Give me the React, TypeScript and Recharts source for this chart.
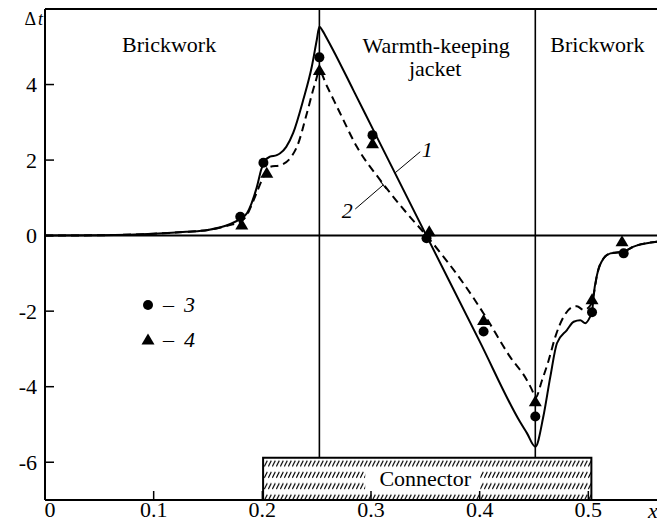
import React from 'react';
import {
  ComposedChart,
  Line,
  Scatter,
  XAxis,
  YAxis,
  ReferenceLine,
  ReferenceArea,
  ReferenceDot,
  Legend,
} from 'recharts';

const FONT = 'Liberation Serif, serif';

// Curve 1 (solid line)
const curve1X = [0, 0.05, 0.1, 0.13, 0.15, 0.17, 0.18, 0.186, 0.19, 0.195, 0.199, 0.202, 0.207, 0.2133, 0.2164, 0.222, 0.2284, 0.2376, 0.2455, 0.2501, 0.2525, 0.2555, 0.2594, 0.2652, 0.2836, 0.3014, 0.351, 0.4, 0.4371, 0.4435, 0.4512, 0.4586, 0.465, 0.4711, 0.4803, 0.4865, 0.4926, 0.4972, 0.5018, 0.5034, 0.5049, 0.508, 0.5141, 0.5203, 0.5325, 0.5417, 0.563, 0.6];
const curve1Y = [0, 0.01, 0.05, 0.1, 0.15, 0.3, 0.45, 0.6, 0.85, 1.29, 1.75, 1.97, 2.09, 2.13, 2.18, 2.35, 2.72, 3.59, 4.47, 5.18, 5.53, 5.42, 5.22, 4.91, 3.86, 2.84, 0, -2.8, -4.93, -5.23, -5.59, -4.79, -3.74, -2.85, -2.5, -2.28, -2.24, -2.32, -2.14, -2.03, -1.57, -1.04, -0.6, -0.47, -0.42, -0.29, -0.16, -0.08];

// Curve 2 (dashed line)
const curve2X = [0, 0.05, 0.1, 0.13, 0.15, 0.17, 0.18, 0.186, 0.19, 0.195, 0.2, 0.204, 0.2072, 0.2164, 0.2318, 0.241, 0.2486, 0.2525, 0.2594, 0.2716, 0.287, 0.3085, 0.3331, 0.351, 0.3668, 0.385, 0.4036, 0.428, 0.4435, 0.4496, 0.4512, 0.4574, 0.4635, 0.4696, 0.4772, 0.4865, 0.4895, 0.4957, 0.5018, 0.5049, 0.508, 0.5141, 0.5203, 0.5325, 0.5417, 0.563, 0.6];
const curve2Y = [0, 0.01, 0.05, 0.1, 0.15, 0.28, 0.38, 0.55, 0.8, 1.15, 1.5, 1.7, 1.82, 1.86, 2.35, 3.24, 4.04, 4.35, 3.96, 3.24, 2.35, 1.47, 0.59, 0, -0.56, -1.26, -2.06, -3.21, -3.83, -4.18, -4.3, -3.83, -3.3, -2.68, -2.15, -1.88, -1.87, -1.97, -1.85, -1.57, -1.04, -0.6, -0.47, -0.42, -0.29, -0.16, -0.08];

// Measured points 3 (circles) and 4 (triangles)
const circlesX = [0.1797, 0.201, 0.2525, 0.3014, 0.3511, 0.4036, 0.4512, 0.5034, 0.5325];
const circlesY = [0.5, 1.93, 4.72, 2.66, -0.07, -2.54, -4.79, -2.03, -0.47];
const trianglesX = [0.1811, 0.2041, 0.2525, 0.3014, 0.3536, 0.4036, 0.4512, 0.5034, 0.531];
const trianglesY = [0.28, 1.65, 4.37, 2.43, 0.1, -2.25, -4.4, -1.7, -0.16];

const xTicks = [0, 0.1, 0.2, 0.3, 0.4, 0.5];
const yTicks = [-6, -4, -2, 0, 2, 4];

const zipXY = (xs: number[], ys: number[]) => xs.map((x, i) => ({ x, y: ys[i] }));

const curve1 = zipXY(curve1X, curve1Y);
const curve2 = zipXY(curve2X, curve2Y);
const circles = zipXY(circlesX, circlesY);
const triangles = zipXY(trianglesX, trianglesY);

const tStyle: React.CSSProperties = { fontFamily: FONT, fontSize: 22 };

const XTick = (props: any) => {
  const { x, y, payload } = props;
  const v = payload.value as number;
  return (
    <g>
      <line x1={x} y1={y} x2={x} y2={y - 9} stroke="#000" strokeWidth={1.5} />
      <text x={v === 0 ? x + 5 : x} y={y + 17} textAnchor="middle" fill="#000" style={tStyle}>
        {v === 0 ? '0' : v.toFixed(1)}
      </text>
    </g>
  );
};

const YTick = (props: any) => {
  const { x, y, payload } = props;
  return (
    <g>
      <line x1={x} y1={y} x2={x + 9} y2={y} stroke="#000" strokeWidth={1.5} />
      <text x={x - 8} y={y + 7.5} textAnchor="end" fill="#000" style={tStyle}>
        {String(payload.value)}
      </text>
    </g>
  );
};

const CircleShape = (props: any) => (
  <circle cx={props.cx} cy={props.cy} r={5} fill="#000" />
);

const TriangleShape = (props: any) => {
  const { cx, cy } = props;
  return (
    <polygon
      points={`${cx},${cy - 6.5} ${cx - 6.5},${cy + 4.5} ${cx + 6.5},${cy + 4.5}`}
      fill="#000"
    />
  );
};

const textAt = (s: string, italic = false) => ({
  content: (p: any) => {
    const vb = p.viewBox || { x: 0, y: 0, width: 0, height: 0 };
    return (
      <text
        x={vb.x + vb.width / 2}
        y={vb.y + vb.height / 2}
        textAnchor="middle"
        fill="#000"
        style={{ ...tStyle, fontStyle: italic ? 'italic' : 'normal' }}
      >
        {s}
      </text>
    );
  },
});

const ConnectorLabel = (p: any) => {
  const vb = p.viewBox;
  const cx = vb.x + vb.width / 2;
  const cy = vb.y + vb.height / 2;
  return (
    <g>
      <rect x={cx - 62} y={cy - 10} width={115} height={22} fill="#fff" />
      <text x={cx - 2} y={cy + 7} textAnchor="middle" fill="#000" style={tStyle}>
        Connector
      </text>
    </g>
  );
};

const DeltaLabel = (p: any) => {
  const vb = p.viewBox || { x: 0, y: 1, width: 37, height: 491 };
  return (
    <text x={vb.x + vb.width - 2} y={vb.y + 16} textAnchor="end" fill="#000" style={{ ...tStyle, fontSize: 18 }}>
      <tspan>Δ</tspan>
      <tspan dx={2} style={{ fontStyle: 'italic' }}>t</tspan>
    </text>
  );
};

const XLabel = (p: any) => {
  const vb = p.viewBox || { x: 37, y: 492, width: 652, height: 27 };
  return (
    <text x={vb.x + 603} y={vb.y + 18} fill="#000" style={{ ...tStyle, fontStyle: 'italic' }}>
      x
    </text>
  );
};

const LegendContent = () => (
  <svg width={90} height={70} style={{ display: 'block', overflow: 'visible' }}>
    <circle cx={9} cy={11} r={5} fill="#000" />
    <text x={24} y={18} fill="#000" style={tStyle}>–</text>
    <text x={45} y={18} fill="#000" style={{ ...tStyle, fontStyle: 'italic' }}>3</text>
    <polygon points="9,39.5 2.5,50.5 15.5,50.5" fill="#000" />
    <text x={24} y={53} fill="#000" style={tStyle}>–</text>
    <text x={45} y={53} fill="#000" style={{ ...tStyle, fontStyle: 'italic' }}>4</text>
  </svg>
);

const BOX_TOP = -5.88;
const PEAK_X = 0.2525;
const TROUGH_X = 0.4512;

export default function App() {
  return (
    <div style={{ position: 'fixed', left: 0, top: 0, width: 657, height: 527, overflow: 'hidden', background: '#fff' }}>
      <div style={{ position: 'absolute', left: 8, top: 8 }}>
        <ComposedChart
          width={700}
          height={519}
          margin={{ top: 1, right: 11, bottom: 0, left: 0 }}
          style={{ fontFamily: FONT }}
        >
          <defs>
            <pattern id="hatch" patternUnits="userSpaceOnUse" x={0} y={450} width={4} height={11.33}>
              <line x1={0.3} y1={8.4} x2={3.3} y2={2.6} stroke="#000" strokeWidth={1.2} />
            </pattern>
          </defs>
          <XAxis
            dataKey="x"
            type="number"
            domain={[0, 0.6]}
            ticks={xTicks}
            interval={0}
            allowDataOverflow
            height={27}
            tickSize={0}
            tickMargin={0}
            tick={<XTick />}
            axisLine={{ stroke: '#000', strokeWidth: 2 }}
            tickLine={false}
            label={{ content: XLabel }}
          />
          <YAxis
            dataKey="y"
            type="number"
            domain={[-7, 6]}
            ticks={yTicks}
            interval={0}
            allowDataOverflow
            width={37}
            tickSize={0}
            tickMargin={0}
            tick={<YTick />}
            axisLine={{ stroke: '#000', strokeWidth: 2 }}
            tickLine={false}
            label={{ content: DeltaLabel }}
          />
          <ReferenceArea
            x1={0.2007}
            x2={0.5028}
            y1={-7}
            y2={BOX_TOP}
            fill="url(#hatch)"
            fillOpacity={1}
            stroke="#000"
            strokeWidth={2}
            label={{ content: ConnectorLabel }}
          />
          <ReferenceLine y={6} stroke="#000" strokeWidth={2} />
          <ReferenceLine y={0} stroke="#000" strokeWidth={2} />
          <ReferenceLine segment={[{ x: PEAK_X, y: BOX_TOP }, { x: PEAK_X, y: 6 }]} stroke="#000" strokeWidth={1.6} />
          <ReferenceLine segment={[{ x: TROUGH_X, y: BOX_TOP }, { x: TROUGH_X, y: 6 }]} stroke="#000" strokeWidth={1.6} />

          {/* leader lines for curve labels */}
          <ReferenceLine segment={[{ x: 0.3223, y: 1.665 }, { x: 0.3453, y: 2.221 }]} stroke="#000" strokeWidth={1} />
          <ReferenceLine segment={[{ x: 0.2855, y: 0.704 }, { x: 0.3112, y: 1.34 }]} stroke="#000" strokeWidth={1} />
          <ReferenceLine segment={[{ x: 0.3085, y: 1.446 }, { x: 0.314, y: 1.234 }]} stroke="#000" strokeWidth={1.2} />

          <Line
            data={curve1}
            dataKey="y"
            type="monotone"
            stroke="#000"
            strokeWidth={2}
            dot={false}
            activeDot={false}
            isAnimationActive={false}
          />
          <Line
            data={curve2}
            dataKey="y"
            type="monotone"
            stroke="#000"
            strokeWidth={2}
            strokeDasharray="8 5"
            dot={false}
            activeDot={false}
            isAnimationActive={false}
          />
          <Scatter data={circles} dataKey="y" name="3" shape={CircleShape} isAnimationActive={false} />
          <Scatter data={triangles} dataKey="y" name="4" shape={TriangleShape} isAnimationActive={false} />

          <ReferenceDot x={0.1142} y={4.86} r={1} fill="none" stroke="none" label={textAt('Brickwork')} />
          <ReferenceDot x={0.36} y={4.83} r={1} fill="none" stroke="none" label={textAt('Warmth-keeping')} />
          <ReferenceDot x={0.3591} y={4.23} r={1} fill="none" stroke="none" label={textAt('jacket')} />
          <ReferenceDot x={0.5083} y={4.86} r={1} fill="none" stroke="none" label={textAt('Brickwork')} />
          <ReferenceDot x={0.3517} y={2.08} r={1} fill="none" stroke="none" label={textAt('1', true)} />
          <ReferenceDot x={0.2781} y={0.47} r={1} fill="none" stroke="none" label={textAt('2', true)} />

          <Legend
            layout="horizontal"
            verticalAlign="middle"
            align="center"
            wrapperStyle={{ left: 131, top: 286, width: 90, height: 70 }}
            content={LegendContent}
          />
        </ComposedChart>
      </div>
    </div>
  );
}
